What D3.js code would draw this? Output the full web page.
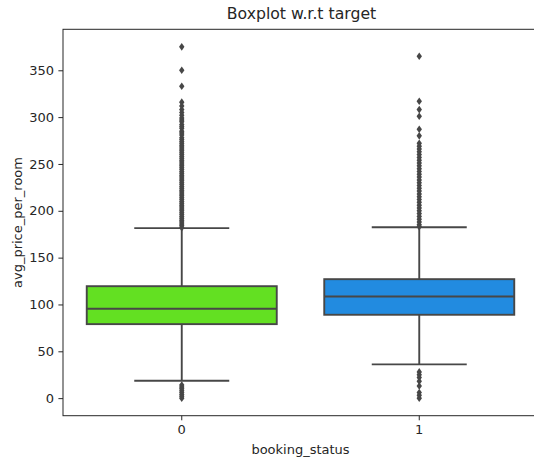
<!DOCTYPE html>
<html>
<head>
<meta charset="utf-8">
<script src="https://cdn.jsdelivr.net/npm/d3@7"></script>
<style>
body { margin: 0; background: #fff; }
text { font-family: "DejaVu Sans", sans-serif; fill: #262626; }
</style>
</head>
<body>
<div id="chart"></div>
<script>
// categories and box statistics
var categories = ["0", "1"];
var whiskerLow = [18.5, 36];
var q1 = [79, 89];
var median = [95.5, 108.5];
var q3 = [119.5, 127];
var whiskerHigh = [181.5, 182.5];
var colors = ["#63e022", "#228be0"];

// outliers per category
var fliers0 = [375, 350, 333, 316, 312, 308, 305, 302, 299, 297, 295, 292, 290, 288, 285, 283, 281, 278,
	276, 274, 272, 270, 268, 266, 264, 262, 260, 258, 256, 254, 252, 250, 248, 246, 244, 242, 240, 238,
	236, 234, 232, 230, 228, 226, 224, 222, 220, 218, 216, 214, 212, 210, 208, 206, 204, 202, 200, 198,
	196, 194, 192, 190, 188, 186, 184, 182,
	14, 12, 10, 8, 6, 4, 2, 0];
var fliers1 = [365, 317, 308, 301, 287, 280, 272, 269, 266, 263, 260, 257, 254, 251, 248, 245, 242,
	239, 236, 233, 230, 227, 224, 221, 218, 215, 212, 209, 206, 203, 200, 197, 194, 191, 188, 185, 183,
	28, 25, 22, 18, 13, 6, 3, 0];
var fliers = [fliers0, fliers1];

var yTicks = [0, 50, 100, 150, 200, 250, 300, 350];

var width = 534, height = 457;
var margin = {left: 63, top: 29.3, right: 538, bottom: 415.7};

var svg = d3.select("#chart").append("svg")
	.attr("width", width)
	.attr("height", height);

var x = d3.scaleBand()
	.domain(categories)
	.range([margin.left, margin.right]);

var y = d3.scaleLinear()
	.domain([-18.75, 393.75])
	.range([margin.bottom, margin.top]);

var gray = "#474747";
var lw = 1.9;
var boxW = x.bandwidth() * 0.8;

// boxes
var boxes = svg.append("g").attr("class", "boxes");
categories.forEach(function(c, i) {
	var cx = x(c) + x.bandwidth() / 2;
	var g = boxes.append("g");
	// whiskers
	g.append("line")
		.attr("x1", cx).attr("x2", cx)
		.attr("y1", y(q3[i])).attr("y2", y(whiskerHigh[i]))
		.attr("stroke", gray).attr("stroke-width", lw);
	g.append("line")
		.attr("x1", cx).attr("x2", cx)
		.attr("y1", y(q1[i])).attr("y2", y(whiskerLow[i]))
		.attr("stroke", gray).attr("stroke-width", lw);
	// caps
	[whiskerHigh[i], whiskerLow[i]].forEach(function(v) {
		g.append("line")
			.attr("x1", cx - boxW / 4).attr("x2", cx + boxW / 4)
			.attr("y1", y(v)).attr("y2", y(v))
			.attr("stroke", gray).attr("stroke-width", lw);
	});
	g.append("rect")
		.attr("x", cx - boxW / 2)
		.attr("y", y(q3[i]))
		.attr("width", boxW)
		.attr("height", y(q1[i]) - y(q3[i]))
		.attr("fill", colors[i])
		.attr("stroke", gray)
		.attr("stroke-width", lw);
	g.append("line")
		.attr("x1", cx - boxW / 2).attr("x2", cx + boxW / 2)
		.attr("y1", y(median[i])).attr("y2", y(median[i]))
		.attr("stroke", gray).attr("stroke-width", lw);
	// fliers (thin diamonds)
	g.selectAll(".flier")
		.data(fliers[i])
		.enter()
			.append("path")
			.attr("class", "flier")
			.attr("d", "M 0 -3.8 L 2.7 0 L 0 3.8 L -2.7 0 Z")
			.attr("fill", gray)
			.attr("transform", function(d) { return "translate(" + cx + "," + y(d) + ")"; });
});

// axes
var yAxis = svg.append("g")
	.attr("transform", "translate(" + margin.left + ",0)")
	.call(d3.axisLeft(y).tickValues(yTicks).tickSize(4.6).tickPadding(4.4));
var xAxis = svg.append("g")
	.attr("transform", "translate(0," + margin.bottom + ")")
	.call(d3.axisBottom(x).tickSize(4.6).tickPadding(4.4));
[yAxis, xAxis].forEach(function(a) {
	a.selectAll("text").attr("font-size", "13px").attr("font-family", "DejaVu Sans").attr("fill", "#262626");
	a.selectAll("line").attr("stroke", "#262626").attr("stroke-width", 1);
	a.select(".domain").remove();
});

// frame
svg.append("rect")
	.attr("x", margin.left)
	.attr("y", margin.top)
	.attr("width", margin.right - margin.left)
	.attr("height", margin.bottom - margin.top)
	.attr("fill", "none")
	.attr("stroke", "#262626")
	.attr("stroke-width", 1);

// labels
svg.append("text")
	.attr("x", (margin.left + margin.right) / 2 + 1)
	.attr("y", 19)
	.attr("text-anchor", "middle")
	.attr("font-size", "15.7px")
	.text("Boxplot w.r.t target");
svg.append("text")
	.attr("x", (margin.left + margin.right) / 2)
	.attr("y", 454)
	.attr("text-anchor", "middle")
	.attr("font-size", "13px")
	.text("booking_status");
svg.append("text")
	.attr("transform", "translate(22," + ((margin.top + margin.bottom) / 2) + ") rotate(-90)")
	.attr("text-anchor", "middle")
	.attr("font-size", "13px")
	.text("avg_price_per_room");
</script>
</body>
</html>
